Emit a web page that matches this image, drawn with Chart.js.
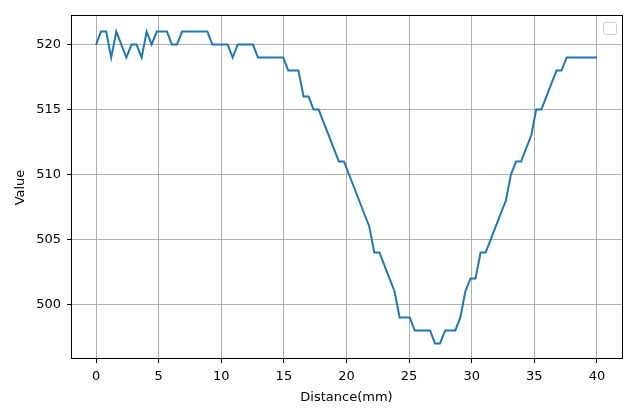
<!DOCTYPE html>
<html lang="en">
<head>
    <meta charset="UTF-8">
    <script src="https://cdn.jsdelivr.net/npm/chart.js"></script>
    <title>Value vs Distance</title>
    <style>
        body { margin: 0; background: #fff; }
        #wrap { width: 640px; height: 409px; }
    </style>
</head>
<body>
    <div id="wrap"><canvas id="profileChart" width="640" height="409"></canvas></div>
    <script>
        // sample positions along the scan (mm)
        const distances = [
            0, 0.40, 0.81, 1.21, 1.62, 2.02, 2.42, 2.83, 3.23, 3.64,
            4.04, 4.44, 4.85, 5.25, 5.66, 6.06, 6.46, 6.87, 7.27, 7.68,
            8.08, 8.48, 8.89, 9.29, 9.70, 10.10, 10.51, 10.91, 11.31, 11.72,
            12.12, 12.53, 12.93, 13.33, 13.74, 14.14, 14.55, 14.95, 15.35, 15.76,
            16.16, 16.57, 16.97, 17.37, 17.78, 18.18, 18.59, 18.99, 19.39, 19.80,
            20.20, 20.61, 21.01, 21.41, 21.82, 22.22, 22.63, 23.03, 23.43, 23.84,
            24.24, 24.65, 25.05, 25.45, 25.86, 26.26, 26.67, 27.07, 27.47, 27.88,
            28.28, 28.69, 29.09, 29.49, 29.90, 30.30, 30.71, 31.11, 31.52, 31.92,
            32.32, 32.73, 33.13, 33.54, 33.94, 34.34, 34.75, 35.15, 35.56, 35.96,
            36.36, 36.77, 37.17, 37.58, 37.98, 38.38, 38.79, 39.19, 39.60, 40.00
        ];
        // measured values read at each position
        const values = [
            520, 521, 521, 519, 521, 520, 519, 520, 520, 519,
            521, 520, 521, 521, 521, 520, 520, 521, 521, 521,
            521, 521, 521, 520, 520, 520, 520, 519, 520, 520,
            520, 520, 519, 519, 519, 519, 519, 519, 518, 518,
            518, 516, 516, 515, 515, 514, 513, 512, 511, 511,
            510, 509, 508, 507, 506, 504, 504, 503, 502, 501,
            499, 499, 499, 498, 498, 498, 498, 497, 497, 498,
            498, 498, 499, 501, 502, 502, 504, 504, 505, 506,
            507, 508, 510, 511, 511, 512, 513, 515, 515, 516,
            517, 518, 518, 519, 519, 519, 519, 519, 519, 519
        ];
        const xTicks = [0, 5, 10, 15, 20, 25, 30, 35, 40];
        const yTicks = [500, 505, 510, 515, 520];

        const font = { family: 'DejaVu Sans', size: 13 };

        // matplotlib-like frame on all four sides + the empty legend box
        const framePlugin = {
            id: 'frame',
            afterDraw(chart) {
                const { ctx, chartArea: a } = chart;
                ctx.save();
                ctx.strokeStyle = '#000';
                ctx.lineWidth = 1;
                ctx.strokeRect(Math.round(a.left) + 0.5, Math.round(a.top) - 0.5,
                    Math.round(a.right - a.left), Math.round(a.bottom - a.top));
                // empty legend
                ctx.beginPath();
                ctx.roundRect(603.5, 22.5, 13, 12, 2);
                ctx.fillStyle = 'rgba(255,255,255,0.8)';
                ctx.fill();
                ctx.strokeStyle = '#cccccc';
                ctx.stroke();
                ctx.restore();
            }
        };

        const points = distances.map((d, i) => ({ x: d, y: values[i] }));

        new Chart(document.getElementById('profileChart').getContext('2d'), {
            type: 'line',
            data: {
                datasets: [{
                    data: points,
                    borderColor: '#1f77b4',
                    borderWidth: 2,
                    pointRadius: 0,
                    tension: 0,
                    fill: false
                }]
            },
            options: {
                responsive: false,
                animation: false,
                layout: { padding: { top: 16, right: 18, left: 0, bottom: 0 } },
                plugins: { legend: { display: false }, tooltip: { enabled: false } },
                scales: {
                    x: {
                        type: 'linear',
                        min: -2,
                        max: 42,
                        afterBuildTicks: s => { s.ticks = xTicks.map(v => ({ value: v })); },
                        afterFit: s => { s.height = 50; },
                        ticks: { color: '#000', font: font, padding: 6, maxRotation: 0 },
                        grid: { color: '#b0b0b0', lineWidth: 1, tickColor: '#000', tickLength: 4 },
                        border: { display: false },
                        title: { display: true, text: 'Distance(mm)', color: '#000', font: font, padding: { top: 0, bottom: 4 } }
                    },
                    y: {
                        min: 495.8,
                        max: 522.2,
                        afterBuildTicks: s => { s.ticks = yTicks.map(v => ({ value: v })); },
                        afterFit: s => { s.width = 71; },
                        ticks: { color: '#000', font: font, padding: 6 },
                        grid: { color: '#b0b0b0', lineWidth: 1, tickColor: '#000', tickLength: 4 },
                        border: { display: false },
                        title: { display: true, text: 'Value', color: '#000', font: font, padding: { top: 13, bottom: 0 } }
                    }
                }
            },
            plugins: [framePlugin]
        });
    </script>
</body>
</html>
